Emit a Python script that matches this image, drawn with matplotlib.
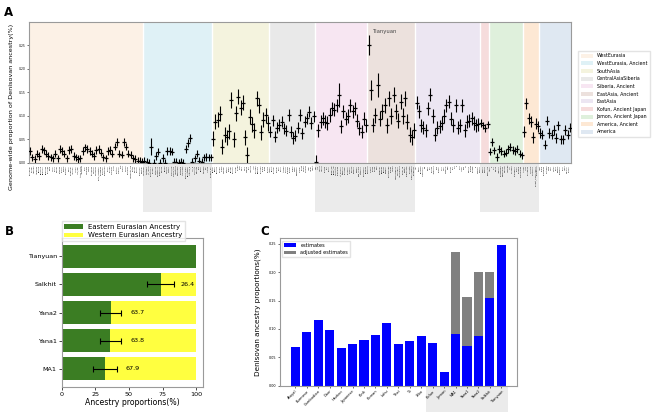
import matplotlib
matplotlib.use("Agg")
import matplotlib.pyplot as plt
from matplotlib.patches import Patch, Rectangle
import matplotlib.transforms as mtransforms
import numpy as np

# ---------------- Panel A data ----------------
region_names = ["WestEurasia", "WestEurasia, Ancient", "SouthAsia", "CentralAsiaSiberia",
                "Siberia, Ancient", "EastAsia, Ancient", "EastAsia", "Kofun, Ancient Japan",
                "Jomon, Ancient Japan", "America, Ancient", "America"]
region_colors = ["#fcf1e6", "#dff1f6", "#f4f3de", "#e9e9e9", "#f7e6f2", "#ece1dd",
                 "#ece6f2", "#f6dcdc", "#dff0dc", "#fde8d4", "#dfe8f2"]

we_pops = ["Abkhasian", "Adygei", "Albanian", "Armenian", "Basque", "BedouinB", "Bergamo", "Bulgarian",
           "Chechen", "Crete", "Czech", "Druze", "English", "Estonian", "Finnish", "French",
           "Georgian", "Greek", "Hungarian", "Icelandic", "Iranian", "Iraqi_Jew", "Italian_North", "Jordanian",
           "Kurd", "Lebanese", "Lezgin", "Lithuanian", "Maltese", "Mordovian", "North_Ossetian", "Norwegian",
           "Orcadian", "Palestinian", "Polish", "Russian", "Sardinian", "Saudi", "Scottish", "Spanish",
           "Tajik", "Turkish", "Tuscan", "Ukrainian", "Yemenite_Jew", "Syrian", "Cypriot", "Sicilian",
           "Romanian", "Croatian"]
we_vals = [0.025, 0.012, 0.008, 0.020, 0.015, 0.030, 0.027, 0.020, 0.015, 0.012,
           0.010, 0.020, 0.010, 0.030, 0.025, 0.020, 0.010, 0.028, 0.030, 0.015,
           0.012, 0.008, 0.010, 0.025, 0.033, 0.030, 0.025, 0.020, 0.015, 0.028,
           0.030, 0.022, 0.012, 0.010, 0.025, 0.028, 0.020, 0.035, 0.045, 0.020,
           0.018, 0.045, 0.035, 0.020, 0.018, 0.010, 0.008, 0.005, 0.004, 0.003]

wea_pops = ["Loschbour", "Stuttgart", "Ust_Ishim", "Kostenki14", "Sunghir", "Vestonice", "GoyetQ116", "Villabruna",
            "ElMiron", "Bichon", "LaBrana", "Motala", "Karelia_HG", "Samara_HG", "Yamnaya", "Afanasievo",
            "Sintashta", "Andronovo", "Corded_Ware", "Bell_Beaker", "Anatolia_N", "Iran_N", "Levant_N", "Natufian",
            "CHG", "Barcin", "Starcevo", "LBK", "Unetice", "Hungary_BA"]
wea_vals = [0.005, 0.002, 0.001, 0.035, 0.001, 0.015, 0.024, 0.001, 0.011, 0.001,
            0.025, 0.026, 0.024, 0.002, 0.003, 0.001, 0.002, 0.001, 0.030, 0.042,
            0.053, 0.002, 0.010, 0.020, 0.005, 0.002, 0.012, 0.013, 0.012, 0.012]

sa_pops = ["Balochi", "Brahui", "Burusho", "Hazara", "Kalash", "Makrani", "Pathan", "Sindhi",
           "Bengali", "Gujarati", "Punjabi", "Telugu", "Tamil", "Kapu", "Mala", "Madiga",
           "Relli", "Yadava", "Irula", "Kusunda", "Brahmin", "Chenchu", "Kharia", "Onge", "Sherpa"]
sa_vals = [0.052, 0.088, 0.092, 0.105, 0.035, 0.060, 0.055, 0.068, 0.134, 0.050,
           0.106, 0.141, 0.118, 0.128, 0.055, 0.017, 0.098, 0.082, 0.070, 0.138,
           0.123, 0.065, 0.092, 0.102, 0.085]

cas_pops = ["Altaian", "Buryat", "Chukchi", "Dolgan", "Even", "Evenk", "Itelman", "Kazakh",
            "Khakass", "Koryak", "Kyrgyz", "Mansi", "Nganasan", "Selkup", "Tlingit", "Tubalar",
            "Tuvinian", "Ulchi", "Uzbek", "Yakut"]
cas_vals = [0.067, 0.091, 0.056, 0.075, 0.081, 0.088, 0.074, 0.069, 0.102, 0.067,
            0.053, 0.058, 0.075, 0.102, 0.063, 0.088, 0.095, 0.109, 0.085, 0.099]

siba_pops = ["MA1", "AG3", "Yana1", "Yana2", "Kolyma", "UKY", "Ekven", "Baikal_EN",
             "Baikal_LN", "Lokomotiv", "Shamanka", "Ust_Belaya", "Glazkovo", "Khovsgol", "Okunevo", "Karasuk",
             "Pazyryk", "Xiongnu", "Xianbei", "Slab_Grave", "Fofonovo", "DevilsCave", "Boisman"]
siba_vals = [0.003, 0.070, 0.088, 0.095, 0.088, 0.085, 0.102, 0.116, 0.113, 0.123,
             0.145, 0.078, 0.110, 0.094, 0.100, 0.123, 0.110, 0.116, 0.090, 0.074,
             0.067, 0.094, 0.080]

eaa_pops = ["Tianyuan", "Salkhit", "AR33K", "AR19K", "Qihe", "Liangdao", "Bianbian", "Boshan",
            "Xiaogao", "Houtaomuga", "Shimao", "Yumin", "Wuzhuangguo", "Miaozigou", "Jiangjialiang", "Upper_YR",
            "Xiaowu", "Pingliangtai", "Haojiatai", "Taiwan_Hanben", "Gongguan"]
eaa_vals = [0.251, 0.155, 0.081, 0.102, 0.166, 0.094, 0.110, 0.123, 0.080, 0.138,
            0.100, 0.145, 0.110, 0.090, 0.130, 0.100, 0.138, 0.088, 0.060, 0.055, 0.070]

ea_pops = ["Ami", "Atayal", "Burmese", "Cambodian", "Dai", "Daur", "Han", "Hezhen",
           "Japanese", "Kinh", "Korean", "Lahu", "Miao", "Mongola", "Naxi", "Oroqen",
           "She", "Thai", "Tu", "Tujia", "Uygur", "Xibo", "Yi", "Hmong", "Tibetan", "Zhuang", "Li", "Manchu"]
ea_vals = [0.128, 0.110, 0.080, 0.075, 0.070, 0.116, 0.145, 0.100, 0.060, 0.075,
           0.078, 0.085, 0.100, 0.123, 0.130, 0.094, 0.080, 0.123, 0.075, 0.080,
           0.123, 0.070, 0.088, 0.090, 0.095, 0.085, 0.080, 0.082]

kofun_pops = ["Kofun1", "Kofun2", "Kofun3", "Kofun_Avg"]
kofun_vals = [0.085, 0.080, 0.075, 0.082]

jomon_pops = ["IK002", "F5", "F23", "Rebun", "Ikawazu", "Funadomari", "Higashimyo", "Todoroki",
              "Yoshigo", "Usu", "Sanganji", "Kitakogane", "Hirajo", "Ohyama", "Kamikuroiwa"]
jomon_vals = [0.024, 0.045, 0.027, 0.013, 0.030, 0.025, 0.020, 0.022, 0.030, 0.034,
              0.028, 0.025, 0.030, 0.020, 0.016]

ama_pops = ["Anzick1", "USR1", "Kennewick", "Lovelock", "SpiritCave", "ancient_Clovis_Anzick", "Sumidouro"]
ama_vals = [0.067, 0.127, 0.095, 0.088, 0.055, 0.084, 0.078]

am_pops = ["Aleut", "Chane", "Colombian", "Karitiana", "Maya", "Mixe", "Mixtec", "Pima",
           "Piapoco", "Quechua", "Surui", "Yaqui", "Zapotec", "Huichol"]
am_vals = [0.064, 0.060, 0.039, 0.090, 0.064, 0.060, 0.070, 0.053, 0.080, 0.050,
           0.050, 0.070, 0.060, 0.075]

# typical half-width of the error bars per region
region_err = [0.008, 0.008, 0.016, 0.012, 0.014, 0.016, 0.014, 0.008, 0.008, 0.012, 0.010]
big_err = {"Tianyuan": 0.022, "Salkhit": 0.022, "Qihe": 0.026, "Kostenki14": 0.018,
           "Shamanka": 0.025, "AR33K": 0.014}

# ---------------- Panel B data ----------------
b_samples = ["MA1", "Yana1", "Yana2", "Salkhit", "Tianyuan"]
b_east = [32.1, 36.2, 36.3, 73.6, 100.0]
b_west = [67.9, 63.8, 63.7, 26.4, 0.0]
b_err = [8.7, 7.7, 7.7, 10.0, 0.0]

# ---------------- Panel C data ----------------
c_pops = ["Atayal", "Burmese", "Cambodian", "Daur", "Hezhen", "Japanese", "Kinh", "Korean",
          "Lahu", "Thai", "Tu", "Xibo", "Kofun", "Jomon", "MA1", "Yana1", "Yana2", "Salkhit", "Tianyuan"]
c_est = [0.0687, 0.095, 0.1157, 0.099, 0.0658, 0.0734, 0.080, 0.0893, 0.110, 0.074,
         0.0787, 0.0875, 0.0752, 0.0235, 0.091, 0.0704, 0.088, 0.1544, 0.2475]
c_adj = [0, 0, 0, 0, 0, 0, 0, 0, 0, 0, 0, 0, 0, 0, 0.235, 0.1556, 0.200, 0.2007, 0]

# ======================================================
fig = plt.figure(figsize=(6.54, 4.12), dpi=100)
SPINE = "#9a9a9a"

# ---------------- Panel A ----------------
axA = fig.add_axes([0.0443, 0.6044, 0.8288, 0.3422])
groups = [(we_pops, we_vals), (wea_pops, wea_vals), (sa_pops, sa_vals), (cas_pops, cas_vals),
          (siba_pops, siba_vals), (eaa_pops, eaa_vals), (ea_pops, ea_vals), (kofun_pops, kofun_vals),
          (jomon_pops, jomon_vals), (ama_pops, ama_vals), (am_pops, am_vals)]
labels_all = []
start = 0
starts = []
for gi, (pops, vals) in enumerate(groups):
    n = len(vals)
    starts.append(start)
    x = np.arange(start, start + n)
    errs = [big_err.get(p, region_err[gi]) for p in pops]
    axA.axvspan(start - 0.5, start + n - 0.5, color=region_colors[gi], lw=0, zorder=0,
                label=region_names[gi])
    axA.errorbar(x, vals, yerr=errs, fmt="_", color="black", ms=2.2, mew=0.9,
                 elinewidth=0.8, capsize=0, zorder=3)
    labels_all += pops
    start += n
    if gi > 0:
        axA.axvline(starts[gi] - 0.5, color="white", lw=1.0, zorder=1)
N = start
axA.set_xlim(-0.5, N - 0.5)
axA.set_ylim(0, 0.30)
axA.set_yticks([0, 0.05, 0.10, 0.15, 0.20, 0.25])
axA.set_yticklabels(["0.00", "0.05", "0.10", "0.15", "0.20", "0.25"])
axA.set_xticks(np.arange(N))
axA.set_xticklabels(labels_all, rotation=90, fontsize=1.4)
axA.tick_params(axis="y", labelsize=2.2, length=1.2, width=0.4, pad=1)
axA.tick_params(axis="x", length=1.0, width=0.3, pad=0.5)
axA.set_ylabel("Genome-wide proportion of Denisovan ancestry(%)", fontsize=4.6)
axA.yaxis.set_label_coords(-0.027, 0.40)
for s in axA.spines.values():
    s.set_color(SPINE)
    s.set_linewidth(0.8)
ti = starts[5]
axA.text(ti + 2, 0.279, "Tianyuan", fontsize=3.8, color="#444444", va="center", ha="left")
handles = [Patch(facecolor=c, edgecolor="none", label=r) for c, r in zip(region_colors, region_names)]
axA.legend(handles=handles, loc="center left", bbox_to_anchor=(1.008, 0.49), fontsize=3.4,
           frameon=True, edgecolor="#dddddd", fancybox=False, handlelength=2.6, handleheight=0.9,
           labelspacing=0.55, borderpad=0.6)

# grey boxes below ancient groups
bt = mtransforms.blended_transform_factory(axA.transData, fig.transFigure)
for g0, g1 in [(1, 1), (4, 5), (7, 9)]:
    x0 = starts[g0] - 0.5
    x1 = starts[g1] + len(groups[g1][1]) - 0.5
    fig.patches.append(Rectangle((x0, 0.4854), x1 - x0, 0.6044 - 0.4854, transform=bt,
                                 facecolor="#ebebeb", edgecolor="none", zorder=-1))

# ---------------- Panel B ----------------
axB = fig.add_axes([0.0943, 0.0614, 0.2161, 0.3602])
yb = np.arange(len(b_samples))
axB.barh(yb, b_east, color="#3b7d23", label="Eastern Eurasian Ancestry", height=0.8)
axB.barh(yb, b_west, left=b_east, color="#ffff40", label="Western Eurasian Ancestry", height=0.8)
for i in range(len(b_samples)):
    if b_err[i] > 0:
        axB.errorbar(b_east[i], yb[i], xerr=b_err[i], color="black", capsize=2, lw=0.8,
                     capthick=0.8)
    if b_west[i] > 0:
        axB.text(b_east[i] + 15, yb[i], f"{b_west[i]:.1f}", fontsize=4.6, va="center", ha="left")
axB.set_xlim(0, 105)
axB.set_yticks(yb)
axB.set_yticklabels(b_samples, fontsize=4.6)
axB.set_xticks([0, 25, 50, 75, 100])
axB.tick_params(axis="x", labelsize=4.6, length=2, width=0.5, pad=1.5)
axB.tick_params(axis="y", length=2, width=0.5, pad=1.5)
axB.set_xlabel("Ancestry proportions(%)", fontsize=5.6, labelpad=1)
for s in axB.spines.values():
    s.set_color(SPINE)
    s.set_linewidth(0.8)
axB.legend(loc="lower left", bbox_to_anchor=(0.0, 0.98), fontsize=5.0, frameon=True,
           edgecolor="#dddddd", fancybox=False, borderaxespad=0, handlelength=2.6,
           labelspacing=0.4)

# ---------------- Panel C ----------------
axC = fig.add_axes([0.4281, 0.0638, 0.3619, 0.3578])
xc = np.arange(len(c_pops))
axC.bar(xc, c_adj, color="gray", label="adjusted estimates", width=0.8)
axC.bar(xc, c_est, color="blue", label="estimates", width=0.8)
axC.set_xticks(xc)
axC.set_xticklabels(c_pops, rotation=45, ha="right", rotation_mode="anchor", fontsize=2.6)
axC.set_yticks([0, 0.05, 0.10, 0.15, 0.20, 0.25])
axC.set_yticklabels(["0.00", "0.05", "0.10", "0.15", "0.20", "0.25"])
axC.tick_params(axis="y", labelsize=2.4, length=1.5, width=0.4, pad=1.5)
axC.tick_params(axis="x", length=1.5, width=0.4, pad=1)
axC.set_ylabel("Denisovan ancestry proportions(%)", fontsize=5.2, labelpad=5)
for s in axC.spines.values():
    s.set_color(SPINE)
    s.set_linewidth(0.8)
h, l = axC.get_legend_handles_labels()
axC.legend([h[1], h[0]], [l[1], l[0]], loc="upper left", fontsize=3.6, frameon=True,
           edgecolor="#dddddd", fancybox=False, handlelength=2.4, borderpad=0.4)
bc = mtransforms.blended_transform_factory(axC.transData, fig.transFigure)
fig.patches.append(Rectangle((11.4, 0.0), 7.2, 0.0638, transform=bc,
                             facecolor="#ebebeb", edgecolor="none", zorder=-1))

# panel letters
fig.text(0.006, 0.985, "A", fontsize=8.5, fontweight="bold", va="top")
fig.text(0.008, 0.455, "B", fontsize=8.5, fontweight="bold", va="top")
fig.text(0.398, 0.455, "C", fontsize=8.5, fontweight="bold", va="top")

fig.savefig("out.png", dpi=100)
